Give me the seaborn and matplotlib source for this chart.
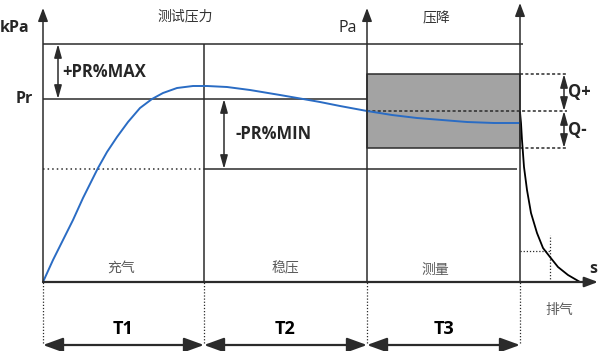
import numpy as np
import pandas as pd
import matplotlib
matplotlib.use("Agg")
import matplotlib.pyplot as plt
import seaborn as sns

# --- dados do diagrama (tempo x pressão, unidades arbitrárias) ---
t_bounds = [0, 161, 324, 477]          # início T1, T2, T3, fim T3
phase_names = ["T1", "T2", "T3"]
p_top = 238                            # +PR%MAX
p_r = 183                              # Pr
p_min = 113                            # -PR%MIN
q_levels = [208, 171, 134]             # Q+ / meio / Q-

fill_t = [0, 10, 20, 30, 40, 50, 55, 64, 74, 85, 97, 109, 120, 134, 150, 164,
          184, 207, 237, 260, 277, 297, 324, 349, 374, 399, 424, 451, 477]
fill_p = [0, 22, 42, 62, 84, 104, 114, 130, 145, 160, 174, 183, 189, 194, 196,
          196, 195, 192, 187, 183, 180, 176, 171, 167, 164, 162, 160, 159, 159]

vent_t = [477, 478, 479, 481, 484, 488, 494, 500, 507, 515, 525, 537]
vent_p = [170, 159, 142, 115, 92, 69, 49, 34, 25, 15, 7, 0]

top_labels = ["测试压力", "压降"]
stage_labels = ["充气", "稳压", "测量", "排气"]

sns.set_style("white")
plt.rcParams['font.family'] = ['Open Sans', 'Noto Sans CJK SC', 'DejaVu Sans']
cjk = ['Noto Sans CJK SC', 'DejaVu Sans']

fig = plt.figure(figsize=(6, 3.51), dpi=100)
ax = fig.add_axes([0, 0, 1, 1])

dark = "#2b2b2b"
lw = 1.1


def arrow(x0, y0, x1, y1, style="-|>", hl=0.8, hw=0.3, ms=10, lwa=lw):
    ax.annotate("", xy=(x1, y1), xytext=(x0, y0),
                arrowprops=dict(arrowstyle=f"{style},head_length={hl},head_width={hw}",
                                color=dark, lw=lwa, shrinkA=0, shrinkB=0,
                                mutation_scale=ms))


t0, t1, t2, t3 = t_bounds

# curvas
df_fill = pd.DataFrame({"t": fill_t, "p": fill_p})
df_vent = pd.DataFrame({"t": vent_t, "p": vent_p})
sns.lineplot(data=df_fill, x="t", y="p", ax=ax, color="#2a6cc4", lw=1.4,
             sort=False, estimator=None, zorder=3)
sns.lineplot(data=df_vent, x="t", y="p", ax=ax, color="black", lw=1.3,
             sort=False, estimator=None, zorder=3)
ax.set_xlim(-43, 557)
ax.set_ylim(-69, 282)
ax.axis("off")

# retângulo cinza (faixa Q)
ax.fill_between([t2, t3], q_levels[2], q_levels[0], color="#a3a3a3",
                edgecolor=dark, lw=lw, zorder=1)

# linhas horizontais
ax.hlines(p_top, t0, t3 + 3, color=dark, lw=lw)
ax.hlines(p_r, t0, t2, color=dark, lw=lw)
ax.hlines(p_min, t0, t1, color=dark, lw=lw, linestyles=(0, (1, 2)))
ax.hlines(p_min, t1, t3 - 3, color=dark, lw=lw)
ax.hlines(q_levels[1], t2, t3 + 47, color=dark, lw=lw, linestyles=(0, (2, 1.5)))
ax.hlines([q_levels[0], q_levels[2]], t3, t3 + 47, color=dark, lw=lw,
          linestyles=(0, (2, 1.5)))

# eixos verticais e linhas de fase
arrow(t0, 0, t0, 274)
arrow(t2, 0, t2, 274)
arrow(t3, 0, t3, 279)
ax.vlines(t1, 0, p_top, color=dark, lw=lw)
ax.vlines(t_bounds, -61, 0, color=dark, lw=0.9, linestyles=(0, (1, 1.5)))

# eixo do tempo
arrow(t0, 0, 555, 0, lwa=1.6)

# marcação pontilhada na curva de exaustão
ax.hlines(31, t3, 507, color=dark, lw=0.9, linestyles=(0, (1, 1.5)))
ax.vlines(507, 0, 47, color=dark, lw=0.9, linestyles=(0, (1, 1.5)))

# setas de tolerância
arrow(15, p_r, 15, p_top, style="<|-|>", hl=0.9, hw=0.25, ms=9)
arrow(181, p_min, 181, p_r, style="<|-|>", hl=0.9, hw=0.25, ms=9)
arrow(521, q_levels[1], 521, q_levels[0], style="<|-|>", hl=0.9, hw=0.25, ms=9)
arrow(521, q_levels[2], 521, q_levels[1], style="<|-|>", hl=0.9, hw=0.25, ms=9)

# setas T1..T3
for i, name in enumerate(phase_names):
    a, b = t_bounds[i], t_bounds[i + 1]
    arrow(a, -63, b, -63, style="<|-|>", hl=1.1, hw=0.4, ms=11, lwa=1.6)
    ax.text((a + b) / 2, -47, name, ha="center", va="center",
            fontsize=13, fontweight="bold", color="black")

# textos
ax.text(-43, 254, "kPa", ha="left", va="center", fontsize=11.5, fontweight="bold")
ax.text(-10, p_r, "Pr", ha="right", va="center", fontsize=11.5, fontweight="bold")
ax.text(314, 254, "Pa", ha="right", va="center", fontsize=11.5)
ax.text(550, 13, "s", ha="center", va="center", fontsize=11.5, fontweight="bold")
ax.text(19, 210, "+PR%MAX", ha="left", va="center", fontsize=12, fontweight="bold")
ax.text(193, 148, "-PR%MIN", ha="left", va="center", fontsize=12, fontweight="bold")
ax.text(525, 190, "Q+", ha="left", va="center", fontsize=12, fontweight="bold")
ax.text(525, 152, "Q-", ha="left", va="center", fontsize=12, fontweight="bold")

gray = "#5a5a5a"
ax.text(142, 266, top_labels[0], ha="center", va="center", fontsize=10,
        color="#333333", family=cjk)
ax.text(393, 264, top_labels[1], ha="center", va="center", fontsize=10,
        color="#333333", family=cjk)
for (tx, py), s in zip([(78, 14), (242, 14), (392, 12), (516, -28)], stage_labels):
    ax.text(tx, py, s, ha="center", va="center", fontsize=10, color=gray, family=cjk)

plt.savefig("out.png", dpi=100)
